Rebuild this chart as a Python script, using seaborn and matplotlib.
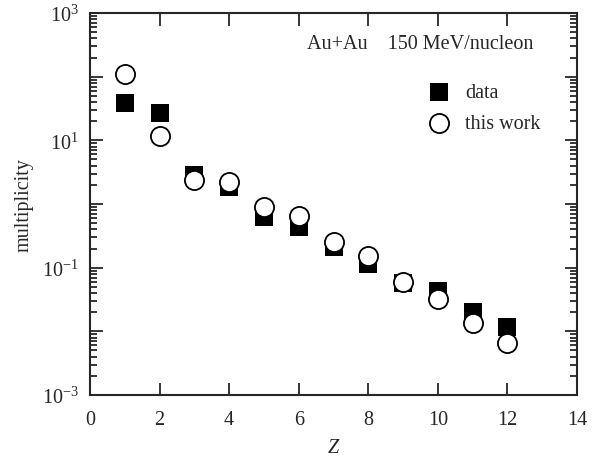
import numpy as np
import pandas as pd
import matplotlib
matplotlib.use("Agg")
import matplotlib.pyplot as plt
import matplotlib.ticker as mticker
import seaborn as sns

Z = [1, 2, 3, 4, 5, 6, 7, 8, 9, 10, 11, 12]
data_mult = [39, 27, 2.85, 1.85, 0.63, 0.44, 0.213, 0.113, 0.0575, 0.043, 0.020, 0.0115]
work_mult = [110, 11.8, 2.4, 2.2, 0.91, 0.64, 0.257, 0.155, 0.060, 0.032, 0.0135, 0.0066]
ytick_vals = [1e-3, 1e-1, 1e1, 1e3]
ytick_labels = [r"$10^{-3}$", r"$10^{-1}$", r"$10^{1}$", r"$10^{3}$"]
xtick_vals = [0, 2, 4, 6, 8, 10, 12, 14]

sns.set_style("ticks")
plt.rcParams['font.family'] = ['Liberation Serif', 'DejaVu Serif']
plt.rcParams['mathtext.fontset'] = 'custom'
plt.rcParams['mathtext.rm'] = 'Liberation Serif'
plt.rcParams['mathtext.it'] = 'Liberation Serif:italic'

FS = 14.5

fig = plt.figure(figsize=(5.95, 4.64), dpi=100)
ax = fig.add_axes([90/595, 1-396/464, (577-90)/595, (396-14)/464])

df = pd.DataFrame({"Z": Z, "data": data_mult, "work": work_mult})
sns.scatterplot(data=df, x="Z", y="data", marker="s", s=150, color="black",
                edgecolor="black", linewidth=0, ax=ax, label="data", zorder=3)
sns.scatterplot(data=df, x="Z", y="work", marker="o", s=190, facecolor="white",
                edgecolor="black", linewidth=1.3, ax=ax, label="this work", zorder=4)

ax.set_yscale("log")
ax.set_xlim(0, 14)
ax.set_ylim(1e-3, 1e3)
ax.yaxis.set_major_locator(mticker.LogLocator(base=10, numticks=20))
ax.yaxis.set_minor_locator(mticker.LogLocator(base=10, subs=np.arange(2, 10), numticks=20))
ax.yaxis.set_major_formatter(mticker.FuncFormatter(
    lambda v, p: ytick_labels[ytick_vals.index(v)] if any(np.isclose(v, t) for t in ytick_vals) else ""))
ax.yaxis.set_minor_formatter(mticker.NullFormatter())
ax.set_xticks(xtick_vals)
ax.set_xticklabels([str(v) for v in xtick_vals])

ax.tick_params(which="both", direction="in", top=True, right=True, width=1.3, labelsize=FS)
ax.tick_params(which="major", length=9)
ax.tick_params(axis="x", which="major", pad=11)
ax.tick_params(axis="y", which="major", pad=8)
ax.tick_params(which="minor", length=5)
for sp in ax.spines.values():
    sp.set_linewidth(1.5)

ax.set_xlabel("$Z$", fontsize=FS, labelpad=6)
ax.set_ylabel("multiplicity", fontsize=FS, labelpad=6)

ax.text(0.4456, 0.921, "Au+Au    150 MeV/nucleon", transform=ax.transAxes, fontsize=FS,
        ha="left", va="center")
ax.legend(loc="upper left", bbox_to_anchor=(0.68, 0.838), frameon=False, fontsize=FS,
          handletextpad=0.8, labelspacing=0.6, borderaxespad=0, handlelength=1.0)

fig.savefig("out.png", dpi=100)
